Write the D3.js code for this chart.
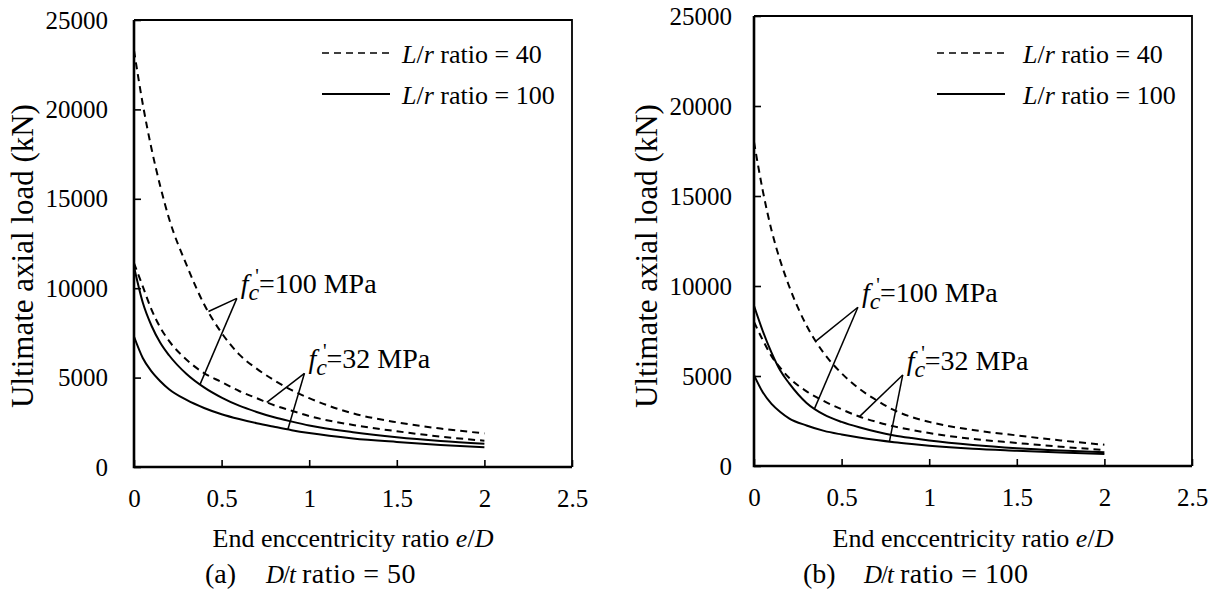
<!DOCTYPE html>
<html>
<head>
<meta charset="utf-8">
<script src="https://cdn.jsdelivr.net/npm/d3@7"></script>
<style>
body { margin: 0; background: #fff; }
svg text { font-family: "Liberation Serif", "Times New Roman", serif; fill: #000; }
</style>
</head>
<body>
<svg id="chart" width="1218" height="597"></svg>
<script>
// e/D values where the curves were read
const eccentricity = [0, 0.05, 0.1, 0.15, 0.2, 0.3, 0.4, 0.5, 0.6, 0.7, 0.8, 0.9, 1.0, 1.25, 1.5, 1.75, 2.0];

// (a) D/t = 50, ultimate axial load in kN
const a_lr40_fc100  = [23300, 20300, 17800, 15700, 13900, 11300, 9100, 7500, 6300, 5500, 4850, 4300, 3850, 3000, 2500, 2150, 1880];
const a_lr40_fc32   = [11400, 10100, 8800, 7800, 7050, 6000, 5250, 4750, 4250, 3850, 3450, 3150, 2850, 2350, 2000, 1700, 1470];
const a_lr100_fc100 = [11200, 9200, 7900, 6950, 6250, 5200, 4450, 3880, 3430, 3080, 2780, 2540, 2320, 1950, 1670, 1460, 1300];
const a_lr100_fc32  = [7300, 6100, 5350, 4800, 4350, 3750, 3300, 2950, 2680, 2450, 2250, 2060, 1900, 1600, 1400, 1230, 1100];

// (b) D/t = 100
const b_lr40_fc100  = [18000, 15300, 13100, 11400, 10000, 7800, 6250, 5150, 4300, 3650, 3100, 2720, 2450, 2000, 1700, 1420, 1180];
const b_lr40_fc32   = [8000, 7000, 6100, 5450, 4900, 4150, 3600, 3150, 2750, 2450, 2200, 2000, 1830, 1500, 1280, 1070, 890];
const b_lr100_fc100 = [8900, 7500, 6300, 5300, 4600, 3500, 2850, 2450, 2150, 1900, 1700, 1550, 1420, 1170, 990, 860, 760];
const b_lr100_fc32  = [5050, 4100, 3450, 3000, 2650, 2250, 1950, 1750, 1580, 1440, 1320, 1220, 1130, 960, 850, 750, 670];

const xTicks = [0, 0.5, 1, 1.5, 2, 2.5];
const yTicks = [0, 5000, 10000, 15000, 20000, 25000];
const legendLabels = ["ratio = 40", "ratio = 100"];

// leader annotations: apex (e/D, kN) and where each leg touches a curve (e/D)
const annotA = [
    {fc: "100", apex: [0.587, 9430], ends: [[a_lr40_fc100, 0.425], [a_lr100_fc100, 0.377]]},
    {fc: "32",  apex: [0.973, 5240], ends: [[a_lr40_fc32, 0.758], [a_lr100_fc32, 0.878]]}
];
const annotB = [
    {fc: "100", apex: [0.593, 8820], ends: [[b_lr40_fc100, 0.355], [b_lr100_fc100, 0.346]]},
    {fc: "32",  apex: [0.849, 5060], ends: [[b_lr40_fc32, 0.602], [b_lr100_fc32, 0.773]]}
];

const svg = d3.select("#chart");

function interp(values, x) {
    for (let i = 1; i < eccentricity.length; i++) {
        if (x <= eccentricity[i]) {
            const t = (x - eccentricity[i - 1]) / (eccentricity[i] - eccentricity[i - 1]);
            return values[i - 1] + t * (values[i] - values[i - 1]);
        }
    }
    return values[values.length - 1];
}

function drawPanel(p) {
    const g = svg.append("g");
    const x = d3.scaleLinear().domain([0, 2.5]).range([p.left, p.right]);
    const y = d3.scaleLinear().domain([0, 25000]).range([p.bottom, p.top]);

    // axes (ticks inward)
    const xa = g.append("g").attr("transform", `translate(0,${p.bottom})`)
        .call(d3.axisBottom(x).tickValues(xTicks).tickFormat(d => String(d))
            .tickSizeInner(-7).tickSizeOuter(0).tickPadding(22));
    const ya = g.append("g").attr("transform", `translate(${p.left},0)`)
        .call(d3.axisLeft(y).tickValues(yTicks).tickFormat(d3.format("d"))
            .tickSizeInner(-7).tickSizeOuter(0).tickPadding(p.yPad));
    [xa, ya].forEach(a => {
        a.attr("font-family", null);
        a.select(".domain").remove();
        a.selectAll(".tick line").attr("stroke", "#000").attr("stroke-width", 1.6);
        a.selectAll(".tick text").attr("font-size", 25);
    });

    // frame
    g.append("path")
        .attr("d", `M${p.left},${p.top}H${p.right}V${p.bottom}`)
        .attr("fill", "none").attr("stroke", "#000").attr("stroke-width", 1.8);
    g.append("path")
        .attr("d", `M${p.left},${p.top}V${p.bottom}H${p.right}`)
        .attr("fill", "none").attr("stroke", "#000").attr("stroke-width", 2.6);

    // curves
    const line = d3.line()
        .x((d, i) => x(eccentricity[i]))
        .y(d => y(d))
        .curve(d3.curveMonotoneX);
    p.series.forEach(s => {
        g.append("path").datum(s.values)
            .attr("d", line)
            .attr("fill", "none")
            .attr("stroke", "#000")
            .attr("stroke-width", 2)
            .attr("stroke-dasharray", s.dashed ? "7,5" : null);
    });

    // annotations
    p.annot.forEach(a => {
        const ax = x(a.apex[0]), ay = y(a.apex[1]);
        a.ends.forEach(e => {
            g.append("line")
                .attr("x1", ax).attr("y1", ay)
                .attr("x2", x(e[1])).attr("y2", y(interp(e[0], e[1])))
                .attr("stroke", "#000").attr("stroke-width", 1.5);
        });
        const t = g.append("text").attr("x", ax + 4).attr("y", ay - 5).attr("font-size", 28);
        t.append("tspan").attr("font-style", "italic").text("f");
        t.append("tspan").attr("font-style", "italic").attr("font-size", 24).attr("dy", 7).text("c");
        t.append("tspan").attr("font-size", 20).attr("dx", -4).attr("dy", -17).text("'");
        t.append("tspan").attr("dx", 0).attr("dy", 10).text(`=${a.fc} MPa`);
    });

    // legend
    const lg = g.append("g").attr("transform", `translate(${p.legendX},53)`);
    [true, false].forEach((dashed, i) => {
        lg.append("line")
            .attr("x1", 0).attr("x2", 68)
            .attr("y1", i * 41).attr("y2", i * 41)
            .attr("stroke", "#000").attr("stroke-width", dashed ? 1.6 : 2)
            .attr("stroke-dasharray", dashed ? "7,5" : null);
        const t = lg.append("text").attr("x", p.legendTextDx).attr("y", i * 41 + 10).attr("font-size", 26);
        t.append("tspan").attr("font-style", "italic").text("L");
        t.append("tspan").text("/");
        t.append("tspan").attr("font-style", "italic").text("r");
        t.append("tspan").text(" " + legendLabels[i]);
    });

    // axis titles
    const xt = g.append("text")
        .attr("x", (p.left + p.right) / 2).attr("y", 547)
        .attr("text-anchor", "middle").attr("font-size", 26);
    xt.append("tspan").text("End enccentricity ratio ");
    xt.append("tspan").attr("font-style", "italic").text("e");
    xt.append("tspan").text("/");
    xt.append("tspan").attr("font-style", "italic").text("D");

    g.append("text")
        .attr("transform", `translate(${p.yTitleX},256) rotate(-90)`)
        .attr("text-anchor", "middle").attr("font-size", 31)
        .text("Ultimate axial load (kN)");

    // caption
    const cx = p.captionX;
    g.append("text").attr("x", cx).attr("y", 583).attr("font-size", 28).text(p.caption[0]);
    const dt = g.append("text").attr("x", cx + 61).attr("y", 583)
        .attr("font-size", 25).attr("letter-spacing", -1);
    dt.append("tspan").attr("font-style", "italic").text("D");
    dt.append("tspan").text("/");
    dt.append("tspan").attr("font-style", "italic").text("t");
    g.append("text").attr("x", cx + 97).attr("y", 583).attr("font-size", 28)
        .attr("letter-spacing", 0.5).text(p.caption[1]);
}

drawPanel({
    left: 134, right: 572, top: 20, bottom: 467, yPad: 26,
    legendX: 322, legendTextDx: 80, yTitleX: 33, captionX: 205,
    caption: ["(a)", "ratio = 50"],
    annot: annotA,
    series: [
        {values: a_lr40_fc100, dashed: true},
        {values: a_lr40_fc32, dashed: true},
        {values: a_lr100_fc100, dashed: false},
        {values: a_lr100_fc32, dashed: false}
    ]
});

drawPanel({
    left: 754, right: 1192, top: 16, bottom: 466, yPad: 22,
    legendX: 937, legendTextDx: 86, yTitleX: 657, captionX: 803,
    caption: ["(b)", "ratio = 100"],
    annot: annotB,
    series: [
        {values: b_lr40_fc100, dashed: true},
        {values: b_lr40_fc32, dashed: true},
        {values: b_lr100_fc100, dashed: false},
        {values: b_lr100_fc32, dashed: false}
    ]
});
</script>
</body>
</html>
